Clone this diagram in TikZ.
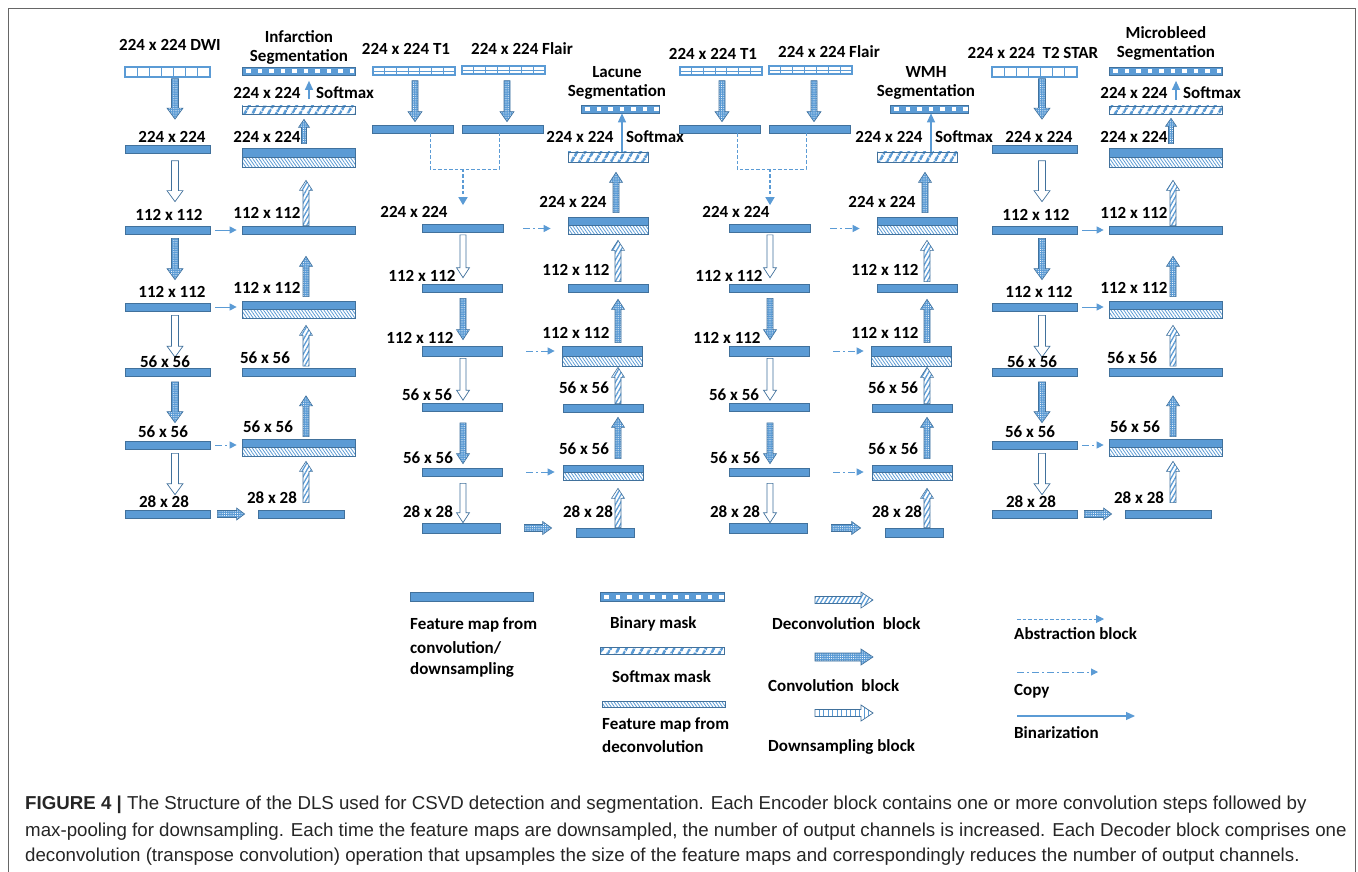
\documentclass[tikz,border=0pt]{standalone}
\usepackage{fontspec}
\setmainfont{Carlito}
\newfontfamily\capfont{Liberation Sans}
\usetikzlibrary{calc,patterns,patterns.meta,arrows.meta}
\definecolor{mblue}{RGB}{91,155,213}
\definecolor{bdr}{RGB}{65,113,156}
\newcommand\lblfont{\fontsize{17}{20}\selectfont\bfseries}

\tikzset{
 lbl/.style={font=\lblfont, inner sep=0pt},
 lgl/.style={font=\lblfont, inner sep=0pt, anchor=west},
 barbase/.style={rectangle, inner sep=0pt, minimum height=8pt, line width=0.7pt},
 fm/.style={barbase, draw=bdr, fill=mblue},
 inpA/.style={barbase, draw=mblue, line width=1.2pt, fill=white,
   path picture={\foreach \i in {1,...,6} \draw[mblue, line width=0.8pt]
     ($(path picture bounding box.south west)!\i/7!(path picture bounding box.south east)$) --
     ($(path picture bounding box.north west)!\i/7!(path picture bounding box.north east)$);}},
 inpB/.style={barbase, draw=mblue, line width=1.2pt, fill=white,
   path picture={\foreach \i in {1,...,6} \draw[mblue, line width=0.8pt]
     ($(path picture bounding box.south west)!\i/7!(path picture bounding box.south east)$) --
     ($(path picture bounding box.north west)!\i/7!(path picture bounding box.north east)$);
     \draw[mblue, line width=0.8pt] (path picture bounding box.west) -- (path picture bounding box.east);}},
 binm/.style={barbase, draw=bdr, fill=mblue,
   path picture={\foreach \k in {0,...,10} \fill[white]
     ($(path picture bounding box.west)+({4pt+\k*11.5pt},-2pt)$) rectangle +(4.5pt,4pt);}},
 smm/.style={barbase, draw=bdr, preaction={fill=white},
   pattern={Lines[angle=60,distance=6.5pt,line width=2.8pt]}, pattern color=mblue},
 dcm/.style={barbase, draw=bdr, fill=white,
   path picture={\fill[mblue] (path picture bounding box.north west) rectangle (path picture bounding box.east);
     \fill[pattern={Lines[angle=-55,distance=2.6pt,line width=0.8pt]}, pattern color=mblue]
       (path picture bounding box.west) rectangle (path picture bounding box.south east);
     \draw[bdr, line width=0.6pt] (path picture bounding box.west) -- (path picture bounding box.east);}},
 dcl/.style={barbase, draw=bdr, preaction={fill=white},
   pattern={Lines[angle=-55,distance=2.6pt,line width=0.8pt]}, pattern color=mblue},
 convA/.style={draw=bdr, line width=0.6pt, preaction={fill=mblue},
   pattern={Dots[radius=0.55pt,distance=2.2pt]}, pattern color=white},
 downA/.style={draw=bdr, line width=0.7pt, fill=white},
 downL/.style={draw=bdr, line width=0.7pt, preaction={fill=white},
   pattern={Lines[angle=90,distance=4.5pt,line width=0.9pt]}, pattern color=mblue},
 deconvA/.style={draw=bdr, line width=0.6pt, preaction={fill=white},
   pattern={Lines[angle=60,distance=3.6pt,line width=1.3pt]}, pattern color=mblue},
 copy/.style={mblue, line width=1pt, dash pattern=on 7pt off 3pt on 2pt off 3pt, -{Triangle[width=7pt,length=7pt]}},
 copyS/.style={mblue, line width=1pt, -{Triangle[width=7pt,length=7pt]}},
 abstr/.style={mblue, line width=0.9pt, dash pattern=on 3.5pt off 2pt},
 abstrM/.style={abstr, line width=1.6pt, -{Triangle[width=9pt,length=8pt]}},
 binz/.style={mblue, line width=1.2pt, -{Triangle[width=8pt,length=9pt]}},
}

% vertical block arrow: style, x, start point, tip point, half shaft, half head, head length
\newcommand\vblock[7]{%
 \path[#1] let \p1=(#3), \p2=(#4), \p3=({#2},0), \n1={ifthenelse(\y2>\y1,1,-1)} in
  ({\x3-#5pt},\y1) -- ({\x3-#5pt},{\y2-\n1*#7}) -- ({\x3-#6pt},{\y2-\n1*#7}) -- (\x3,\y2)
  -- ({\x3+#6pt},{\y2-\n1*#7}) -- ({\x3+#5pt},{\y2-\n1*#7}) -- ({\x3+#5pt},\y1) -- cycle;}
% horizontal block arrow: style, start point, tip point, half shaft, half head, head length
\newcommand\hblock[6]{%
 \path[#1] let \p1=(#2), \p2=(#3), \n1={ifthenelse(\x2>\x1,1,-1)} in
  (\x1,{\y1-#4pt}) -- ({\x2-\n1*#6},{\y1-#4pt}) -- ({\x2-\n1*#6},{\y1-#5pt}) -- (\x2,\y1)
  -- ({\x2-\n1*#6},{\y1+#5pt}) -- ({\x2-\n1*#6},{\y1+#4pt}) -- (\x1,{\y1+#4pt}) -- cycle;}

% single-input column: prefix, shift, input label, label x, label y, title, title y
\newcommand\sidecol[7]{%
\begin{scope}[name prefix=#1-]
 \def\SX{#2}
 \node[inpA, minimum width=85pt, minimum height=10pt] (inp) at ({\SX+167.5},72) {};
 \node[fm, minimum width=85pt] (a1) at ({\SX+167.5},149.5) {};
 \node[fm, minimum width=85pt] (a2) at ({\SX+167.5},230) {};
 \node[fm, minimum width=85pt] (a3) at ({\SX+167.5},307) {};
 \node[fm, minimum width=85pt] (a4) at ({\SX+167.5},372.5) {};
 \node[fm, minimum width=85pt] (a5) at ({\SX+167.5},445) {};
 \node[fm, minimum width=85pt] (a6) at ({\SX+167.5},514) {};
 \node[binm, minimum width=113pt] (bin) at ({\SX+298.5},71.5) {};
 \node[smm, minimum width=113pt] (sm) at ({\SX+298.5},110) {};
 \node[dcm, minimum width=113pt, minimum height=19pt] (d1) at ({\SX+298.5},157.5) {};
 \node[fm, minimum width=113pt] (d2) at ({\SX+298.5},230) {};
 \node[dcm, minimum width=113pt, minimum height=17pt] (d3) at ({\SX+298.5},309.5) {};
 \node[fm, minimum width=113pt] (d4) at ({\SX+298.5},372.5) {};
 \node[dcm, minimum width=113pt, minimum height=17pt] (d5) at ({\SX+298.5},447.5) {};
 \node[fm, minimum width=86pt] (d6) at ({\SX+301},514) {};
 % encoder arrows
 \vblock{convA}{\SX+175}{$(inp.south)+(0,1)$}{$(a1.north)+(0,-26)$}{3.5}{8}{11}
 \vblock{downA}{\SX+175}{$(a1.south)+(0,7)$}{$(a2.north)+(0,-24)$}{3.5}{8}{11}
 \vblock{convA}{\SX+175}{$(a2.south)+(0,4)$}{$(a3.north)+(0,-23)$}{3.5}{8}{11}
 \vblock{downA}{\SX+175}{$(a3.south)+(0,4)$}{$(a4.north)+(0,-11)$}{3.5}{8}{11}
 \vblock{convA}{\SX+175}{$(a4.south)+(0,5)$}{$(a5.north)+(0,-18)$}{3.5}{8}{11}
 \vblock{downA}{\SX+175}{$(a5.south)+(0,4)$}{$(a6.north)+(0,-15)$}{3.5}{8}{11}
 \hblock{convA}{$(a6.east)+(7,0)$}{$(d6.west)+(-13,0)$}{3.5}{6}{8}
 % decoder arrows
 \vblock{deconvA}{\SX+306}{$(d6.north)+(0,-7)$}{$(d5.south)+(0,5)$}{3}{6.5}{10}
 \vblock{convA}{\SX+306}{$(d5.north)+(0,-2)$}{$(d4.south)+(0,19)$}{3}{6.5}{10}
 \vblock{deconvA}{\SX+306}{$(d4.north)+(0,-2)$}{$(d3.south)+(0,7)$}{3}{6.5}{10}
 \vblock{convA}{\SX+306}{$(d3.north)+(0,-4)$}{$(d2.south)+(0,22)$}{3}{6.5}{10}
 \vblock{deconvA}{\SX+306}{$(d2.north)$}{$(d1.south)+(0,13)$}{3}{6.5}{10}
 \vblock{convA}{\SX+304}{$(d1.north)+(0,-4)$}{$(sm.south)+(0,4)$}{2.5}{5.5}{8}
 \draw[binz] ($(sm.north)+(10.5,-6)$) -- ($(bin.south)+(10.5,5)$);
 % copies
 \draw[copyS, shorten <=5pt, shorten >=5pt] (a2.east) -- (a2.east -| d2.west);
 \draw[copyS, shorten <=5pt, shorten >=5pt] (a3.east) -- (a3.east -| d3.west);
 \draw[copy, shorten <=5pt, shorten >=5pt] (a5.east) -- (a5.east -| d5.west);
 % labels
 \node[lbl] (t0) at (#4,#5) {#3};
 \node[lbl] (t1) at ({\SX+299},#7) {#6};
 \node[lbl] (t2) at ({\SX+299},{#7+19.5}) {Segmentation};
 \node[lbl] (e1) at ({\SX+172},137) {224 x 224};
 \node[lbl] (e2) at ({\SX+169},215) {112 x 112};
 \node[lbl] (e3) at ({\SX+172},292) {112 x 112};
 \node[lbl] (e4) at ({\SX+165},362) {56 x 56};
 \node[lbl] (e5) at ({\SX+163},432) {56 x 56};
 \node[lbl] (e6) at ({\SX+164},502) {28 x 28};
 \node[lbl] (s0) at ({\SX+267},93) {224 x 224};
 \node[lbl] (s1) at ({\SX+345},93) {Softmax};
 \node[lbl] (s2) at ({\SX+267},137) {224 x 224};
 \node[lbl] (s3) at ({\SX+267},213) {112 x 112};
 \node[lbl] (s4) at ({\SX+267},288) {112 x 112};
 \node[lbl] (s5) at ({\SX+265},358) {56 x 56};
 \node[lbl] (s6) at ({\SX+268},427) {56 x 56};
 \node[lbl] (s7) at ({\SX+272},498) {28 x 28};
\end{scope}}

% two-input column: prefix, encoder shift, decoder shift, title, T1 label y, Flair label y, enc 224 label x
\newcommand\midcol[7]{%
\begin{scope}[name prefix=#1-]
 \def\EX{#2}\def\DX{#3}
 \node[inpB, minimum width=82pt] (inT1) at ({\EX+414},71) {};
 \node[inpB, minimum width=83pt] (inFl) at ({\EX+503.5},70) {};
 \node[fm, minimum width=81pt] (fT1) at ({\EX+412.5},129) {};
 \node[fm, minimum width=81pt] (fFl) at ({\EX+502.5},129) {};
 \node[fm, minimum width=81pt] (b1) at ({\EX+462.5},228.5) {};
 \node[fm, minimum width=80pt] (b2) at ({\EX+462},288) {};
 \node[fm, minimum width=80pt, minimum height=10pt] (b3) at ({\EX+462},351) {};
 \node[fm, minimum width=80pt] (b4) at ({\EX+462},407.5) {};
 \node[fm, minimum width=80pt] (b5) at ({\EX+462},472) {};
 \node[fm, minimum width=78pt, minimum height=10pt] (b6) at ({\EX+461},528) {};
 \node[binm, minimum width=78pt] (bin) at ({\DX+620},109) {};
 \node[smm, minimum width=80pt, minimum height=10pt] (sm) at ({\DX+608},157) {};
 \node[dcm, minimum width=80pt, minimum height=17pt] (d1) at ({\DX+608},225.5) {};
 \node[fm, minimum width=80pt] (d2) at ({\DX+608},288) {};
 \node[dcm, minimum width=80pt, minimum height=20pt] (d3) at ({\DX+602},356) {};
 \node[fm, minimum width=80pt] (d4) at ({\DX+603},408) {};
 \node[dcm, minimum width=80pt, minimum height=15pt] (d5) at ({\DX+603},472.5) {};
 \node[fm, minimum width=58pt, minimum height=9pt] (d6) at ({\DX+605},532.5) {};
 % inputs
 \vblock{convA}{\EX+415}{$(inT1.south)+(0,5)$}{$(fT1.north)+(0,-3)$}{3}{7}{10}
 \vblock{convA}{\EX+507}{$(inFl.south)+(0,6)$}{$(fFl.north)+(0,-3)$}{3}{7}{10}
 % abstraction
 \coordinate (jL) at ({\EX+430},169);
 \coordinate (jR) at ({\EX+499},169);
 \coordinate (jM) at ({\EX+463},169);
 \draw[abstr] (fT1.south -| jL) -- (jL) -- (jR) -- (fFl.south -| jR);
 \draw[abstrM] (jM) -- ($(b1.north -| jM)+(0,-19)$);
 % encoder arrows
 \vblock{downA}{\EX+463}{$(b1.south)+(0,2)$}{$(b2.north)+(0,-6)$}{3}{6.5}{10}
 \vblock{convA}{\EX+463}{$(b2.south)+(0,6)$}{$(b3.north)+(0,-6)$}{3}{6.5}{10}
 \vblock{downA}{\EX+463}{$(b3.south)+(0,2)$}{$(b4.north)+(0,-3)$}{3}{6.5}{10}
 \vblock{convA}{\EX+463}{$(b4.south)+(0,11)$}{$(b5.north)+(0,-4)$}{3}{6.5}{10}
 \vblock{downA}{\EX+463}{$(b5.south)+(0,7)$}{$(b6.north)$}{3}{6.5}{10}
 \hblock{convA}{$(b6.east)+(24,0)$}{$(d6.west)+(-24,0)$}{3.5}{6.5}{9}
 % decoder arrows
 \vblock{deconvA}{\DX+618}{$(d6.north)$}{$(d5.south)+(0,8)$}{3}{6.5}{10}
 \vblock{convA}{\DX+618}{$(d5.north)+(0,-6)$}{$(d4.south)+(0,5)$}{3}{6.5}{10}
 \vblock{deconvA}{\DX+618}{$(d4.north)$}{$(d3.south)+(0,1)$}{3}{6.5}{10}
 \vblock{convA}{\DX+618}{$(d3.north)+(0,-3)$}{$(d2.south)+(0,7)$}{3}{6.5}{10}
 \vblock{deconvA}{\DX+618}{$(d2.north)+(0,-2)$}{$(d1.south)+(0,6)$}{3}{6.5}{10}
 \vblock{convA}{\DX+616}{$(d1.north)+(0,-4)$}{$(sm.south)+(0,10)$}{3}{6.5}{10}
 \draw[binz] ($(sm.north)+(14,0)$) -- ($(bin.south)+(2,0)$);
 % copies
 \draw[copy, shorten <=20pt, shorten >=17pt] (b1.east) -- (b1.east -| d1.west);
 \draw[copy, shorten <=24pt, shorten >=7pt] (b3.east) -- (b3.east -| d3.west);
 \draw[copy, shorten <=24pt, shorten >=8pt] (b5.east) -- (b5.east -| d5.west);
 % labels
 \node[lbl] (tT1) at ({\EX+406},#5) {224 x 224 T1};
 \node[lbl] (tFl) at ({\EX+522},#6) {224 x 224 Flair};
 \node[lbl] (e1) at (#7,212) {224 x 224};
 \node[lbl] (e2) at ({\EX+422},276) {112 x 112};
 \node[lbl] (e3) at ({\EX+420},338) {112 x 112};
 \node[lbl] (e4) at ({\EX+427},395) {56 x 56};
 \node[lbl] (e5) at ({\EX+428},458) {56 x 56};
 \node[lbl] (e6) at ({\EX+428},512) {28 x 28};
 \node[lbl] (t1) at ({\DX+617},72) {#4};
 \node[lbl] (t2) at ({\DX+617},92) {Segmentation};
 \node[lbl] (s0) at ({\DX+580},137) {224 x 224};
 \node[lbl] (s1) at ({\DX+655},137) {Softmax};
 \node[lbl] (s2) at ({\DX+573},202) {224 x 224};
 \node[lbl] (s3) at ({\DX+576},270) {112 x 112};
 \node[lbl] (s4) at ({\DX+576},333) {112 x 112};
 \node[lbl] (s5) at ({\DX+584},388) {56 x 56};
 \node[lbl] (s6) at ({\DX+584},449) {56 x 56};
 \node[lbl] (s7) at ({\DX+588},512) {28 x 28};
\end{scope}}

\begin{document}
\begin{tikzpicture}[x=1pt,y=-1pt]
\useasboundingbox (0,0) rectangle (1358,872);
\fill[white] (0,0) rectangle (1358,872);
% frame
\draw[black!60, line width=1pt] (8,872) -- (8,9) -- (1355,9) -- (1355,872);

\sidecol{A}{0}{224 x 224 DWI}{170}{45}{Infarction}{37}
\midcol{B}{0}{0}{Lacune}{49}{49}{414}
\midcol{C}{307}{309}{WMH}{54}{52}{736}
\sidecol{D}{867}{224 x 224\ \ T2 STAR}{1033}{53}{Microbleed}{33}

% legend
\node[fm, minimum width=123pt, minimum height=9pt] (lgA) at (471.5,596.5) {};
\node[binm, minimum width=124pt, minimum height=9pt] (lgB) at (662,596.5) {};
\node[smm, minimum width=124pt, minimum height=7pt] (lgC) at (662,650.5) {};
\node[dcl, minimum width=123pt, minimum height=6pt] (lgD) at (663.5,704) {};
\coordinate (lgE1) at (815,600); \coordinate (lgE2) at (873,600);
\hblock{deconvA}{lgE1}{lgE2}{3.5}{8}{12}
\coordinate (lgF1) at (815,657); \coordinate (lgF2) at (873,657);
\hblock{convA}{lgF1}{lgF2}{4}{8}{12}
\coordinate (lgG1) at (815,713); \coordinate (lgG2) at (873,713);
\hblock{downL}{lgG1}{lgG2}{3.5}{8}{12}
\coordinate (lgH1) at (1017,619); \coordinate (lgH2) at (1104,619);
\draw[abstr, -{Triangle[width=8pt,length=8pt]}] (lgH1) -- (lgH2);
\coordinate (lgI1) at (1017,672); \coordinate (lgI2) at (1098,672);
\draw[copy] (lgI1) -- (lgI2);
\coordinate (lgJ1) at (1017,716); \coordinate (lgJ2) at (1135,716);
\draw[binz] (lgJ1) -- (lgJ2);

\node[lgl] (lt1) at (410,625) {Feature map from};
\node[lgl] (lt2) at (410,648) {convolution/};
\node[lgl] (lt3) at (410,670) {downsampling};
\node[lgl] (lt4) at (610,624) {Binary mask};
\node[lgl] (lt5) at (612,677) {Softmax mask};
\node[lgl] (lt6) at (602,725) {Feature map from};
\node[lgl] (lt7) at (602,747) {deconvolution};
\node[lgl] (lt8) at (772,624) {Deconvolution\ \ block};
\node[lgl] (lt9) at (768,686) {Convolution\ \ block};
\node[lgl] (lt10) at (768,747) {Downsampling block};
\node[lgl] (lt11) at (1014,634) {Abstraction block};
\node[lgl] (lt12) at (1014,691) {Copy};
\node[lgl] (lt13) at (1014,733) {Binarization};

% caption
\tikzset{capt/.style={anchor=base west, inner sep=0pt, text=black!85, font=\capfont\fontsize{18.7}{20}\selectfont}}
\node[capt] (c1) at (25,809.5) {\textbf{FIGURE 4 |} The Structure of the DLS used for CSVD detection and segmentation. Each Encoder block contains one or more convolution steps followed by};
\node[capt] (c2) at (25,836) {max-pooling for downsampling. Each time the feature maps are downsampled, the number of output channels is increased. Each Decoder block comprises one};
\node[capt] (c3) at (25,861) {deconvolution (transpose convolution) operation that upsamples the size of the feature maps and correspondingly reduces the number of output channels.};
\end{tikzpicture}
\end{document}
